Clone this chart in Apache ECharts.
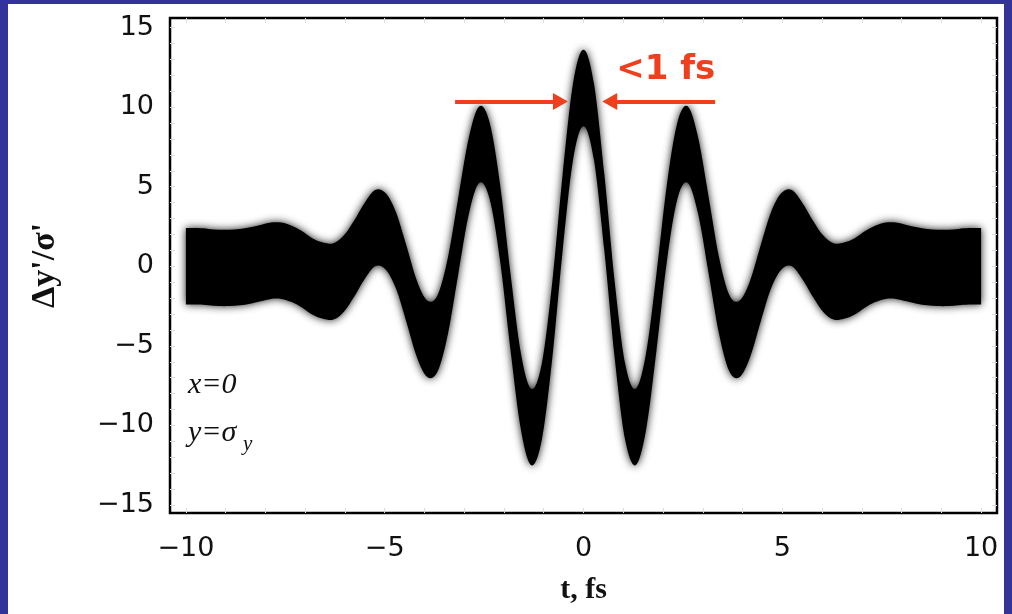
<!DOCTYPE html>
<html><head><meta charset="utf-8">
<script src="https://cdn.jsdelivr.net/npm/echarts@6/dist/echarts.min.js"></script>
<style>html,body{margin:0;padding:0;background:#fff}#c{width:1012px;height:614px}</style>
</head><body><div id="c"></div>
<script>
// time samples (fs)
const tValues = [-10,-9.694,-9.432,-9.17,-8.908,-8.646,-8.384,-8.122,-7.86,-7.598,-7.336,-7.074,-6.812,-6.55,-6.288,-6.026,-5.764,-5.502,-5.24,-4.978,-4.716,-4.454,-4.192,-3.93,-3.668,-3.406,-3.144,-2.882,-2.62,-2.358,-2.096,-1.834,-1.572,-1.31,-1.048,-0.786,-0.524,-0.262,0,0.262,0.524,0.786,1.048,1.31,1.572,1.834,2.096,2.358,2.62,2.882,3.144,3.406,3.668,3.93,4.192,4.454,4.716,4.978,5.24,5.502,5.764,6.026,6.288,6.55,6.812,7.074,7.336,7.598,7.86,8.122,8.384,8.646,8.908,9.17,9.432,9.694,10];
// centre line of the deflection band, Δy'/σ'
const centerValues = [0.0,0.0,-0.05,-0.1,-0.1,-0.05,0.05,0.2,0.35,0.35,0.15,-0.2,-0.65,-0.9,-0.95,-0.45,0.5,1.6,2.4,2.2,1.0,-1.1,-3.3,-4.55,-4.2,-1.8,2.0,5.7,7.65,6.6,2.7,-2.9,-7.9,-10.1,-8.5,-3.4,3.4,9.1,11.2,9.1,3.4,-3.4,-8.5,-10.1,-7.9,-2.9,2.7,6.6,7.65,5.7,2.0,-1.8,-4.2,-4.55,-3.3,-1.1,1.0,2.2,2.4,1.6,0.5,-0.45,-0.95,-0.9,-0.65,-0.2,0.15,0.35,0.35,0.2,0.05,-0.05,-0.1,-0.1,-0.05,0.0,0.0];
// vertical half-width of the band
const bandHalfWidth = 2.4;
const xTickLabels = [-10,-5,0,5,10];
const yTickLabels = [-15,-10,-5,0,5,10,15];
const xMinorTicks = [-10,-9,-8,-7,-6,-5,-4,-3,-2,-1,0,1,2,3,4,5,6,7,8,9,10];
const yMinorTicks = [-15,-14,-13,-12,-11,-10,-9,-8,-7,-6,-5,-4,-3,-2,-1,0,1,2,3,4,5,6,7,8,9,10,11,12,13,14,15];

// [t, lower edge, upper edge]
const bandData = tValues.map((t,i)=>[t, +(centerValues[i]-bandHalfWidth).toFixed(3), +(centerValues[i]+bandHalfWidth).toFixed(3)]);

const RED = '#ef3f1d';
const fmt = v => (v < 0 ? '\u2212' + Math.abs(v) : String(v));
const tickStyle = {inside:true, length:5, lineStyle:{color:'#dcdcdc', width:1}};
const labelFont = {fontFamily:'DejaVu Sans', fontSize:27, color:'#111'};

// smooth curve through pixel points (Catmull-Rom as cubic Beziers)
function curveThrough(P) {
  let d = '';
  for (let i = 0; i < P.length - 1; i++) {
    const p0 = P[Math.max(i - 1, 0)], p1 = P[i], p2 = P[i + 1], p3 = P[Math.min(i + 2, P.length - 1)];
    const c1x = p1[0] + (p2[0] - p0[0]) / 6, c1y = p1[1] + (p2[1] - p0[1]) / 6;
    const c2x = p2[0] - (p3[0] - p1[0]) / 6, c2y = p2[1] - (p3[1] - p1[1]) / 6;
    d += ' C' + c1x.toFixed(2) + ' ' + c1y.toFixed(2) + ' ' + c2x.toFixed(2) + ' ' + c2y.toFixed(2) + ' ' + p2[0].toFixed(2) + ' ' + p2[1].toFixed(2);
  }
  return d;
}

function renderBand(params, api) {
  if (params.dataIndex !== 0) return null;
  const upper = [], lower = [];
  for (let i = 0; i < bandData.length; i++) {
    upper.push(api.coord([bandData[i][0], bandData[i][2]]));
    lower.push(api.coord([bandData[i][0], bandData[i][1]]));
  }
  lower.reverse();
  const d = 'M' + upper[0][0].toFixed(2) + ' ' + upper[0][1].toFixed(2) + curveThrough(upper) +
            ' L' + lower[0][0].toFixed(2) + ' ' + lower[0][1].toFixed(2) + curveThrough(lower) + ' Z';
  return {
    type:'path',
    shape:{pathData:d},
    style:{fill:'#000', shadowBlur:8, shadowColor:'rgba(0,0,0,0.9)'},
    silent:true
  };
}

const chart = echarts.init(document.getElementById('c'), null, {renderer:'canvas'});
chart.setOption({
  backgroundColor:'#fff',
  animation:false,
  grid:{left:170, top:18, width:827, height:495, show:true, borderColor:'#000', borderWidth:2.5, backgroundColor:'transparent'},
  xAxis:[
    {type:'value', min:-10.4, max:10.4, position:'bottom',
     axisLine:{show:false, onZero:false}, splitLine:{show:false},
     axisTick:Object.assign({customValues:xMinorTicks}, tickStyle),
     axisLabel:Object.assign({customValues:xTickLabels, formatter:fmt, margin:22}, labelFont),
     name:'t, fs', nameLocation:'middle', nameGap:62,
     nameTextStyle:{fontFamily:'Liberation Serif', fontWeight:'bold', fontSize:30, color:'#111'}},
    {type:'value', min:-10.4, max:10.4, position:'top',
     axisLine:{show:false, onZero:false}, splitLine:{show:false},
     axisTick:Object.assign({customValues:xMinorTicks}, tickStyle),
     axisLabel:{show:false}}
  ],
  yAxis:[
    {type:'value', min:-15.5, max:15.6, position:'left',
     axisLine:{show:false, onZero:false}, splitLine:{show:false},
     axisTick:Object.assign({customValues:yMinorTicks}, tickStyle),
     axisLabel:Object.assign({customValues:yTickLabels, formatter:fmt, margin:16}, labelFont),
     name:"\u0394y'/\u03c3'", nameLocation:'middle', nameRotate:90, nameGap:108,
     nameTextStyle:{fontFamily:'Liberation Serif', fontWeight:'bold', fontSize:34, color:'#111'}},
    {type:'value', min:-15.5, max:15.6, position:'right',
     axisLine:{show:false, onZero:false}, splitLine:{show:false},
     axisTick:Object.assign({customValues:yMinorTicks}, tickStyle),
     axisLabel:{show:false}}
  ],
  series:[
    {type:'custom', name:'band', data:bandData, encode:{x:0, y:[1,2]},
     renderItem:renderBand, silent:true, z:2, clip:true},
    {type:'line', name:'annot', data:[], silent:true, z:5,
     markLine:{silent:true, animation:false, symbol:['none','triangle'], symbolSize:[17,15],
       lineStyle:{color:RED, width:4, type:'solid'}, label:{show:false},
       data:[
         [{coord:[-3.23,10.35]},{coord:[-0.58,10.35]}],
         [{coord:[3.31,10.35]},{coord:[0.66,10.35]}]
       ]},
     markPoint:{silent:true, animation:false, symbol:'circle', symbolSize:0,
       label:{show:true, position:'inside', formatter:'<1 fs', color:RED,
              fontFamily:'DejaVu Sans', fontWeight:'bold', fontSize:34},
       data:[{coord:[2.07,12.31]}]}}
  ],
  graphic:[
    {type:'rect', shape:{x:0,y:0,width:8,height:614}, style:{fill:'#333399'}, silent:true},
    {type:'rect', shape:{x:0,y:0,width:1012,height:4}, style:{fill:'#333399'}, silent:true},
    {type:'rect', shape:{x:1004,y:0,width:8,height:614}, style:{fill:'#333399'}, silent:true},
    {type:'text', x:188, y:385.5, z:10, silent:true,
     style:{text:'x=0', font:'italic 30px "Liberation Serif"', fill:'#111', verticalAlign:'middle'}},
    {type:'text', x:188, y:433.5, z:10, silent:true,
     style:{text:'y=\u03c3', font:'italic 30px "Liberation Serif"', fill:'#111', verticalAlign:'middle'}},
    {type:'text', x:243, y:444, z:10, silent:true,
     style:{text:'y', font:'italic 21px "Liberation Serif"', fill:'#111', verticalAlign:'middle'}}
  ]
});
</script></body></html>
